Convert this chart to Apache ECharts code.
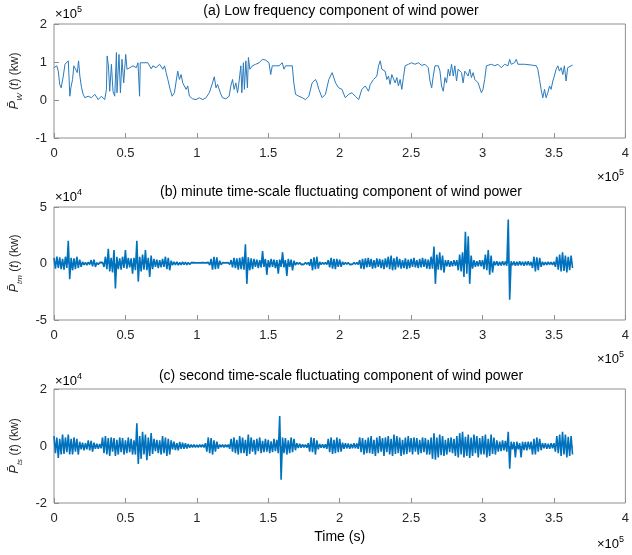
<!DOCTYPE html>
<html><head><meta charset="utf-8">
<script src="https://cdn.jsdelivr.net/npm/echarts@6/dist/echarts.min.js"></script>
<style>html,body{margin:0;padding:0;background:#fff}#c{width:632px;height:555px}</style>
</head><body><div id="c"></div>
<script>
// ---- data (time in units of 1e5 s) ----
const titles = [
  '(a) Low frequency component of wind power',
  '(b) minute time-scale fluctuating component of wind power',
  '(c) second time-scale fluctuating component of wind power'
];
const xTicks = [0, 0.5, 1, 1.5, 2, 2.5, 3, 3.5, 4];
const yRanges = [[-1, 2, 1], [-5, 5, 5], [-2, 2, 2]];
const yExp = ['5', '4', '4'];
const subs = ['W', 'tm', 'ts'];

// (a) low-frequency component, power in units of 1e5 kW
const lowT = [0.00,0.02,0.03,0.04,0.05,0.065,0.077,0.088,0.100,0.111,0.118,0.130,0.139,0.153,0.163,0.172,0.181,0.193,0.204,0.216,0.239,0.262,0.286,0.309,0.332,0.355,0.367,0.372,0.381,0.390,0.402,0.413,0.425,0.437,0.441,0.455,0.465,0.476,0.488,0.502,0.511,0.530,0.553,0.576,0.588,0.595,0.599,0.604,0.623,0.657,0.681,0.692,0.715,0.739,0.762,0.774,0.785,0.797,0.813,0.827,0.843,0.866,0.878,0.890,0.901,0.913,0.925,0.936,0.948,0.971,0.994,1.017,1.041,1.064,1.087,1.110,1.122,1.134,1.145,1.157,1.168,1.180,1.203,1.226,1.238,1.250,1.261,1.273,1.285,1.296,1.308,1.315,1.326,1.333,1.343,1.354,1.361,1.371,1.389,1.401,1.412,1.424,1.436,1.459,1.482,1.494,1.505,1.517,1.528,1.552,1.575,1.598,1.610,1.621,1.668,1.679,1.691,1.714,1.738,1.761,1.784,1.807,1.831,1.842,1.854,1.877,1.900,1.924,1.947,1.971,1.993,2.016,2.039,2.063,2.086,2.109,2.133,2.155,2.179,2.202,2.214,2.237,2.260,2.272,2.284,2.295,2.307,2.318,2.330,2.342,2.353,2.365,2.388,2.400,2.411,2.423,2.435,2.446,2.458,2.481,2.504,2.527,2.551,2.574,2.597,2.620,2.632,2.644,2.655,2.667,2.678,2.690,2.702,2.713,2.725,2.737,2.748,2.760,2.771,2.783,2.795,2.806,2.818,2.829,2.853,2.864,2.876,2.899,2.911,2.922,2.934,2.946,2.969,2.992,3.003,3.015,3.027,3.038,3.062,3.085,3.108,3.131,3.155,3.178,3.190,3.201,3.224,3.236,3.248,3.294,3.341,3.376,3.387,3.399,3.410,3.422,3.434,3.445,3.457,3.469,3.480,3.492,3.503,3.515,3.527,3.538,3.550,3.562,3.573,3.585,3.596,3.608,3.631];
const lowV = [0.85,0.90,0.76,0.41,0.32,0.63,0.94,0.90,1.03,0.10,0.32,0.54,0.90,0.94,0.72,1.03,0.63,0.32,0.15,0.06,0.10,0.06,0.15,0.01,0.10,0.01,0.28,1.16,0.90,0.23,0.94,0.23,0.10,1.25,0.19,1.20,0.19,1.07,0.45,1.20,0.81,0.85,0.90,0.85,0.98,0.94,0.10,0.98,0.98,0.98,0.82,0.90,0.85,0.94,0.81,0.90,0.72,0.54,0.28,0.10,0.19,0.76,0.54,0.67,0.45,0.50,0.28,0.37,0.10,0.03,0.01,0.06,0.01,0.06,0.19,0.45,0.61,0.32,0.41,0.37,0.15,0.06,0.03,0.10,0.37,0.54,0.28,0.45,0.19,0.50,0.90,0.19,0.98,0.28,1.03,0.32,1.12,0.81,0.90,0.85,0.94,0.90,0.98,1.07,1.05,1.03,0.98,0.67,0.90,0.90,0.90,0.98,0.81,0.90,0.90,0.45,0.15,0.10,0.06,0.01,0.10,0.45,0.54,0.45,0.28,0.06,0.15,0.54,0.72,0.45,0.32,0.28,0.06,0.15,0.19,0.10,0.01,0.28,0.37,0.23,0.41,0.54,0.63,0.90,1.03,0.81,0.85,0.76,0.54,0.63,0.41,0.67,0.45,0.59,0.37,0.54,0.28,0.59,0.90,0.94,0.98,0.94,0.98,0.91,0.94,0.85,0.50,0.32,0.63,0.90,0.94,0.90,0.76,0.37,0.23,0.59,0.45,0.81,0.63,0.94,0.63,0.90,0.50,0.81,0.72,0.45,0.76,0.63,0.81,0.59,0.72,0.54,0.45,0.19,0.28,0.54,0.90,0.85,0.94,0.90,0.94,0.85,0.94,0.90,1.07,0.94,0.98,1.07,0.94,0.94,0.92,0.90,0.81,0.54,0.28,0.06,0.28,0.06,0.19,0.37,0.28,0.50,0.63,0.81,0.90,0.76,0.85,0.67,0.90,0.50,0.85,0.90,0.92];

// (b),(c) sampled every 0.01 (x1e5 s), power in units of 1e4 kW
const fluctStep = 0.01;
const minuteV = [
0.5,-0.45,0.6,-0.4,0.55,-0.5,0.4,-0.55,0.6,-0.4,
2.0,-1.4,0.5,-0.6,0.45,-0.5,0.6,-0.4,0.35,-0.3,
0.15,-0.12,0.1,-0.15,0.12,-0.1,0.3,-0.25,0.35,-0.3,
0.08,-0.1,0.1,-0.07,0.1,-0.3,0.6,-0.5,1.3,-0.7,
0.5,-0.8,1.2,-2.2,0.6,-0.5,0.45,-0.55,0.6,-0.4,
1.2,-0.45,0.5,-0.35,0.45,-0.9,0.5,-0.6,2.0,-1.6,
0.6,-0.7,0.8,-0.55,1.2,-0.6,0.5,-1.2,0.7,-0.5,
0.4,-0.3,0.35,-0.4,0.3,-0.35,0.4,-0.3,0.6,-0.5,
0.5,-0.6,0.25,-0.15,0.15,-0.12,0.15,-0.15,0.1,-0.12,
0.15,-0.1,0.12,-0.12,0.1,-0.1,0.08,-0.07,0.08,-0.08,
0.07,-0.08,0.06,-0.07,0.08,-0.06,0.07,-0.08,0.1,-0.15,
0.4,-0.55,0.6,-0.5,0.55,-0.45,0.25,-0.12,0.08,-0.08,
0.07,-0.08,0.08,-0.1,0.3,-0.35,0.5,-0.4,0.45,-0.55,
0.5,-0.5,0.6,-0.55,1.7,-1.8,0.55,-0.6,0.45,-0.5,
0.4,-0.3,0.35,-0.4,0.3,-0.35,1.1,-0.3,0.4,-1.0,
0.3,-0.35,0.4,-0.3,0.35,-0.4,0.3,-0.9,0.35,-0.3,
1.0,-0.35,0.3,-1.1,0.4,-0.3,0.35,-0.6,0.25,-0.15,
0.1,-0.08,0.1,-0.1,0.07,-0.08,0.1,-0.08,0.1,-0.2,
0.4,-0.6,0.55,-0.5,0.6,-0.45,0.15,-0.1,0.1,-0.08,
0.1,-0.1,0.3,-0.35,0.5,-0.45,0.4,-0.5,0.4,-0.3,
0.35,-0.3,0.15,-0.1,0.1,-0.08,0.1,-0.1,0.07,-0.08,
0.1,-0.08,0.1,-0.1,0.3,-0.45,0.4,-0.5,0.45,-0.35,
0.5,-0.3,0.4,-0.45,0.3,-0.4,0.45,-0.3,0.4,-0.4,
0.35,-0.5,0.45,-0.35,0.6,-0.5,0.7,-0.6,0.45,-0.55,
0.6,-0.35,0.4,-0.45,0.3,-0.4,0.45,-0.5,0.35,-0.4,
0.4,-0.3,0.5,-0.35,0.3,-0.4,0.4,-0.35,0.5,-0.3,
0.4,-0.45,0.35,-0.5,0.6,-0.45,1.5,-1.8,0.8,-0.55,
1.0,-0.6,0.7,-0.8,0.3,-0.25,0.3,-0.3,0.2,-0.25,
0.3,-0.2,0.3,-0.6,0.8,-0.7,1.0,-1.2,2.8,-0.9,
2.4,-1.8,0.7,-0.45,0.3,-0.3,0.2,-0.25,0.3,-0.25,
0.3,-0.5,0.8,-0.6,1.2,-1.0,0.7,-0.8,0.2,-0.15,
0.2,-0.2,0.15,-0.18,0.2,-0.15,0.18,-0.2,3.9,-3.2,
0.2,-0.15,0.18,-0.2,0.15,-0.18,0.2,-0.15,0.15,-0.2,
0.18,-0.15,0.2,-0.18,0.15,-0.4,0.6,-0.7,0.55,-0.6,
0.5,-0.3,0.15,-0.15,0.12,-0.12,0.15,-0.1,0.12,-0.12,
0.15,-0.3,0.6,-0.55,0.8,-0.7,1.0,-0.65,0.7,-0.8,
0.6,-0.6,0.7,-0.4];
const secondV = [
0.35,-0.25,0.3,-0.42,0.25,-0.3,0.4,-0.28,0.3,-0.22,
0.4,-0.3,0.25,-0.3,0.3,-0.2,0.25,-0.3,0.15,-0.12,
0.12,-0.15,0.1,-0.12,0.2,-0.15,0.18,-0.2,0.12,-0.1,
0.08,-0.1,0.07,-0.08,0.3,-0.25,0.35,-0.3,0.28,-0.35,
0.3,-0.2,0.28,-0.35,0.22,-0.3,0.3,-0.22,0.28,-0.3,
0.2,-0.25,0.3,-0.22,0.25,-0.3,0.2,-0.3,0.8,-0.63,
0.35,-0.45,0.5,-0.3,0.4,-0.5,0.3,-0.35,0.45,-0.28,
0.25,-0.18,0.22,-0.25,0.2,-0.3,0.35,-0.25,0.3,-0.35,
0.25,-0.3,0.2,-0.12,0.15,-0.14,0.1,-0.15,0.14,-0.1,
0.12,-0.1,0.1,-0.09,0.07,-0.06,0.05,-0.05,0.05,-0.05,
0.04,-0.05,0.05,-0.04,0.05,-0.05,0.1,-0.2,0.3,-0.25,
0.28,-0.3,0.2,-0.2,0.15,-0.1,0.05,-0.04,0.05,-0.05,
0.05,-0.04,0.05,-0.1,0.25,-0.2,0.3,-0.25,0.22,-0.3,
0.35,-0.25,0.3,-0.25,0.22,-0.35,0.4,-0.28,0.3,-0.2,
0.22,-0.3,0.25,-0.18,0.3,-0.25,0.18,-0.22,0.25,-0.2,
0.22,-0.25,0.16,-0.22,0.25,-0.18,0.22,-0.25,1.05,-1.18,
0.3,-0.25,0.28,-0.3,0.2,-0.25,0.3,-0.22,0.25,-0.15,
0.1,-0.07,0.08,-0.06,0.06,-0.05,0.05,-0.06,0.1,-0.2,
0.3,-0.22,0.28,-0.3,0.2,-0.12,0.07,-0.06,0.06,-0.07,
0.06,-0.1,0.25,-0.22,0.3,-0.28,0.22,-0.25,0.3,-0.22,
0.25,-0.2,0.12,-0.1,0.1,-0.08,0.09,-0.1,0.07,-0.08,
0.1,-0.08,0.09,-0.1,0.3,-0.22,0.28,-0.3,0.22,-0.25,
0.3,-0.25,0.35,-0.28,0.22,-0.35,0.3,-0.25,0.35,-0.2,
0.28,-0.35,0.3,-0.22,0.35,-0.3,0.25,-0.35,0.4,-0.28,
0.35,-0.25,0.3,-0.35,0.22,-0.3,0.3,-0.28,0.35,-0.22,
0.28,-0.3,0.3,-0.2,0.28,-0.3,0.22,-0.25,0.3,-0.22,
0.28,-0.3,0.22,-0.3,0.3,-0.45,0.45,-0.48,0.3,-0.4,
0.4,-0.32,0.35,-0.35,0.22,-0.3,0.28,-0.22,0.3,-0.25,
0.25,-0.35,0.35,-0.4,0.45,-0.3,0.5,-0.4,0.32,-0.35,
0.4,-0.42,0.3,-0.35,0.4,-0.25,0.35,-0.4,0.28,-0.3,
0.35,-0.3,0.4,-0.4,0.25,-0.35,0.4,-0.28,0.3,-0.3,
0.2,-0.2,0.15,-0.18,0.2,-0.15,0.18,-0.2,0.5,-0.8,
0.15,-0.12,0.14,-0.4,0.15,-0.12,0.1,-0.4,0.15,-0.14,
0.14,-0.15,0.15,-0.12,0.15,-0.3,0.25,-0.3,0.3,-0.2,
0.25,-0.15,0.1,-0.08,0.1,-0.1,0.08,-0.1,0.1,-0.08,
0.1,-0.2,0.35,-0.25,0.4,-0.35,0.5,-0.3,0.4,-0.4,
0.32,-0.35,0.35,-0.3];

// ---- build ----
const lowData = lowT.map((t, i) => [t, lowV[i]]);
const minuteData = minuteV.map((v, i) => [+(i * fluctStep).toFixed(2), v]);
const secondData = secondV.map((v, i) => [+(i * fluctStep).toFixed(2), v]);

const FONT = 'Liberation Sans';
const BOX = '#8f8f8f';
const TXT = '#262626';
const BLUE = '#0072BD';
const grids = [
  {left: 54, right: 4, top: 24, height: 114},
  {left: 54, right: 4, top: 207, height: 113},
  {left: 54, right: 4, top: 389, height: 114}
];

const chart = echarts.init(document.getElementById('c'), null, {renderer: 'canvas'});

const ylabelRich = {
  p: {fontFamily: FONT, fontStyle: 'italic', fontSize: 13, color: TXT, lineHeight: 20, verticalAlign: 'middle'},
  s: {fontFamily: FONT, fontStyle: 'italic', fontSize: 8, color: TXT, lineHeight: 20, verticalAlign: 'bottom', padding: [0, 0, 1, 0]},
  i: {fontFamily: FONT, fontStyle: 'italic', fontSize: 12, color: TXT, lineHeight: 20, verticalAlign: 'middle'},
  n: {fontFamily: FONT, fontSize: 12, color: TXT, lineHeight: 20, verticalAlign: 'middle'}
};

const xAxes = grids.map((g, k) => ({
  type: 'value', gridIndex: k, min: xTicks[0], max: xTicks[xTicks.length - 1], interval: 0.5,
  position: 'bottom',
  axisLine: {show: false, onZero: false},
  axisTick: {show: true, inside: true, length: 5, lineStyle: {color: BOX}},
  splitLine: {show: false},
  axisLabel: {fontFamily: FONT, fontSize: 13, color: TXT, margin: 9},
  name: k === 2 ? 'Time (s)' : '',
  nameLocation: 'middle', nameGap: 27,
  nameTextStyle: {fontFamily: FONT, fontSize: 14, color: '#000'}
}));

const yAxes = grids.map((g, k) => ({
  type: 'value', gridIndex: k, min: yRanges[k][0], max: yRanges[k][1], interval: yRanges[k][2],
  position: 'left',
  axisLine: {show: false, onZero: false},
  axisTick: {show: true, inside: true, length: 5, lineStyle: {color: BOX}},
  splitLine: {show: false},
  axisLabel: {fontFamily: FONT, fontSize: 13, color: TXT, margin: 7},
  name: '{p|P\u0304}{s|' + subs[k] + '}{n| (}{i|t}{n|) (kw)}',
  nameLocation: 'middle', nameRotate: 90, nameGap: 26,
  nameTextStyle: {rich: ylabelRich}
}));

const expText = (x, y, e) => ({
  type: 'text', x: x, y: y,
  style: {
    text: '{a|\u00d710}{b|' + e + '}',
    rich: {
      a: {fontFamily: FONT, fontSize: 13, color: '#404040', lineHeight: 16, verticalAlign: 'bottom'},
      b: {fontFamily: FONT, fontSize: 9, color: '#404040', lineHeight: 16, verticalAlign: 'top'}
    },
    verticalAlign: 'top'
  }
});

chart.setOption({
  animation: false,
  backgroundColor: '#fff',
  title: titles.map((t, k) => ({
    text: t, left: 341, textAlign: 'center', top: [4, 185, 369][k], padding: 0,
    textStyle: {fontFamily: FONT, fontSize: 14, fontWeight: 'normal', color: '#000'}
  })),
  grid: grids.map(g => Object.assign({show: true, borderColor: BOX, borderWidth: 1, backgroundColor: '#fff'}, g)),
  xAxis: xAxes,
  yAxis: yAxes,
  graphic: [
    expText(55, 5, yExp[0]), expText(597, 168, '5'),
    expText(55, 188, yExp[1]), expText(597, 350, '5'),
    expText(55, 372, yExp[2]), expText(597, 535, '5')
  ],
  series: [
    {type: 'line', xAxisIndex: 0, yAxisIndex: 0, data: lowData, showSymbol: false, symbol: 'none',
     lineStyle: {color: '#2a7bbd', width: 1}},
    {type: 'line', xAxisIndex: 1, yAxisIndex: 1, data: minuteData, showSymbol: false, symbol: 'none',
     lineStyle: {color: BLUE, width: 1.6, join: 'bevel'}, areaStyle: {color: BLUE, opacity: 1, origin: 0}},
    {type: 'line', xAxisIndex: 2, yAxisIndex: 2, data: secondData, showSymbol: false, symbol: 'none',
     lineStyle: {color: BLUE, width: 1.6, join: 'bevel'}, areaStyle: {color: BLUE, opacity: 1, origin: 0}}
  ]
});
</script>
</body></html>
